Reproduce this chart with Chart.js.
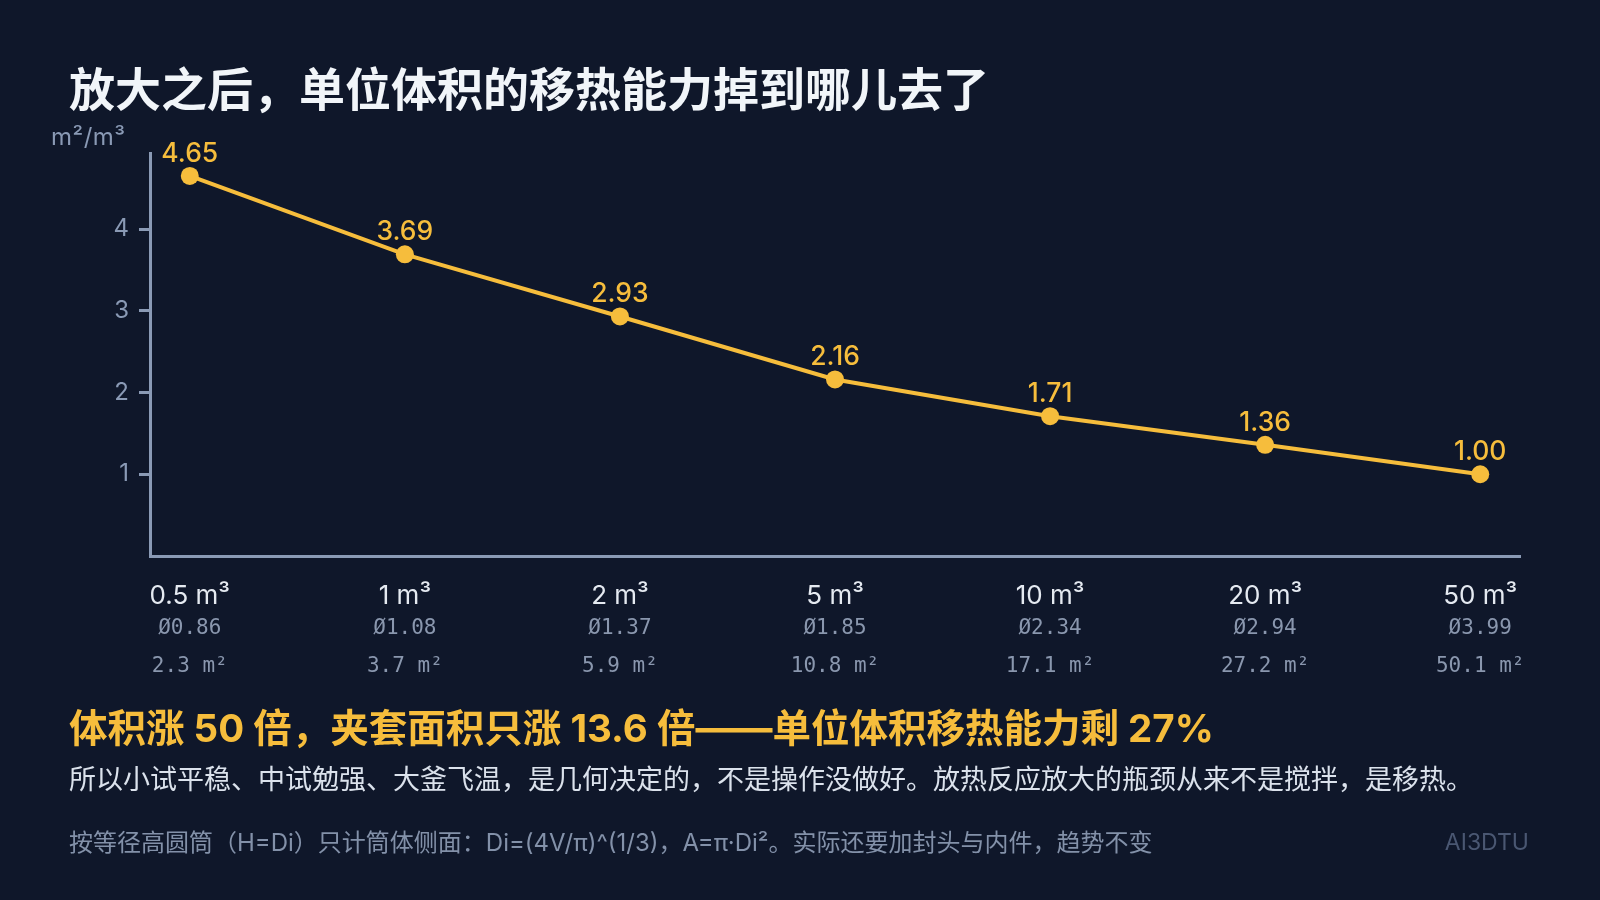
<!DOCTYPE html>
<html><head><meta charset="utf-8">
<script src="https://cdn.jsdelivr.net/npm/chart.js@4.4.0/dist/chart.umd.min.js"></script>
<style>
html,body{margin:0;padding:0;background:#0f172a;width:1600px;height:900px;overflow:hidden;}
#wrap{position:relative;width:1600px;height:900px;background:#0f172a;}
#c{position:absolute;left:0;top:0;width:1600px;height:900px;}
.t{position:absolute;white-space:nowrap;font-family:"Inter","Noto Sans CJK SC",sans-serif;line-height:1;z-index:2;}
</style></head><body>
<div id="wrap">
<canvas id="c" width="1600" height="900"></canvas>
<div class="t" style="left:69px;top:66px;font-size:46px;font-weight:700;color:#f1f5f9;">放大之后，单位体积的移热能力掉到哪儿去了</div>
<div class="t" style="left:51px;top:125px;font-size:24px;letter-spacing:0.5px;color:#8a9ab5;">m²/m³</div>
<div class="t" style="left:69px;top:709px;font-size:38.5px;font-weight:700;color:#f6bd3c;">体积涨 50 倍，夹套面积只涨 13.6 倍——单位体积移热能力剩 27%</div>
<div class="t" style="left:69px;top:766px;font-size:27px;color:#dbe2ec;">所以小试平稳、中试勉强、大釜飞温，是几何决定的，不是操作没做好。放热反应放大的瓶颈从来不是搅拌，是移热。</div>
<div class="t" style="left:69px;top:831px;font-size:24px;color:#8391a9;">按等径高圆筒（H=Di）只计筒体侧面：Di=(4V/π)^(1/3)，A=π·Di²。实际还要加封头与内件，趋势不变</div>
<div class="t" style="right:71px;top:831px;font-size:23px;color:#4a5772;">AI3DTU</div>
</div>
<script>
const categories = ['0.5 m³','1 m³','2 m³','5 m³','10 m³','20 m³','50 m³'];
const diameters = ['Ø0.86','Ø1.08','Ø1.37','Ø1.85','Ø2.34','Ø2.94','Ø3.99'];
const areas = ['2.3 m²','3.7 m²','5.9 m²','10.8 m²','17.1 m²','27.2 m²','50.1 m²'];
const ratio = [4.65,3.69,2.93,2.16,1.71,1.36,1.00];
const yTicks = [1,2,3,4];

const AMBER = '#f6bd3c';
const AXIS = '#8a9ab5';

const labelPlugin = {
  id: 'labels',
  afterDatasetsDraw(chart) {
    const ctx = chart.ctx;
    const meta = chart.getDatasetMeta(0);
    ctx.save();
    ctx.fillStyle = AMBER;
    ctx.font = '500 26.5px Inter, "Noto Sans", sans-serif';
    ctx.textAlign = 'center';
    ctx.textBaseline = 'alphabetic';
    meta.data.forEach((pt, i) => {
      ctx.fillText(ratio[i].toFixed(2), pt.x, pt.y - 14);
    });
    ctx.restore();
  },
  afterDraw(chart) {
    const ctx = chart.ctx;
    const xs = chart.scales.x;
    const bottom = chart.chartArea.bottom;
    ctx.save();
    ctx.fillStyle = '#8a97ae';
    ctx.font = '21px "DejaVu Sans Mono", monospace';
    ctx.textAlign = 'center';
    ctx.textBaseline = 'middle';
    categories.forEach((c, i) => {
      const x = xs.getPixelForValue(i);
      ctx.fillText(diameters[i], x, bottom + 73);
      ctx.fillText(areas[i], x, bottom + 111);
    });
    ctx.restore();
  }
};

new Chart(document.getElementById('c'), {
  type: 'line',
  data: {
    datasets: [{
      data: ratio.map((v, i) => ({ x: i, y: v })),
      borderColor: AMBER,
      backgroundColor: AMBER,
      borderWidth: 4,
      pointRadius: 9,
      pointHoverRadius: 9,
      pointBorderWidth: 0,
      pointBackgroundColor: AMBER,
      tension: 0,
      clip: false
    }]
  },
  options: {
    responsive: false,
    animation: false,
    devicePixelRatio: 1,
    layout: { padding: { left: 0, top: 153, right: 80, bottom: 214 } },
    plugins: { legend: { display: false }, tooltip: { enabled: false }, title: { display: false } },
    scales: {
      x: {
        type: 'linear',
        min: -0.185, max: 6.185,
        afterBuildTicks: s => { s.ticks = categories.map((_, i) => ({ value: i })); },
        afterFit: s => { s.height = 130; },
        ticks: {
          callback: v => categories[v] ?? '',
          color: '#e5eaf1',
          font: { family: 'Inter', size: 26 },
          padding: 25,
          maxRotation: 0, autoSkip: false
        },
        grid: { display: false, drawTicks: false, tickLength: 0 },
        border: { display: true, color: AXIS, width: 3 }
      },
      y: {
        min: 0, max: 4.93,
        afterBuildTicks: s => { s.ticks = yTicks.map(v => ({ value: v })); },
        afterFit: s => { s.width = 150; },
        ticks: {
          color: AXIS,
          font: { family: 'Inter', size: 24 },
          padding: 10
        },
        grid: { drawOnChartArea: false, drawTicks: true, tickLength: 11, color: AXIS, lineWidth: 3 },
        border: { display: true, color: AXIS, width: 3 }
      }
    }
  },
  plugins: [labelPlugin]
});
</script>
</body></html>
